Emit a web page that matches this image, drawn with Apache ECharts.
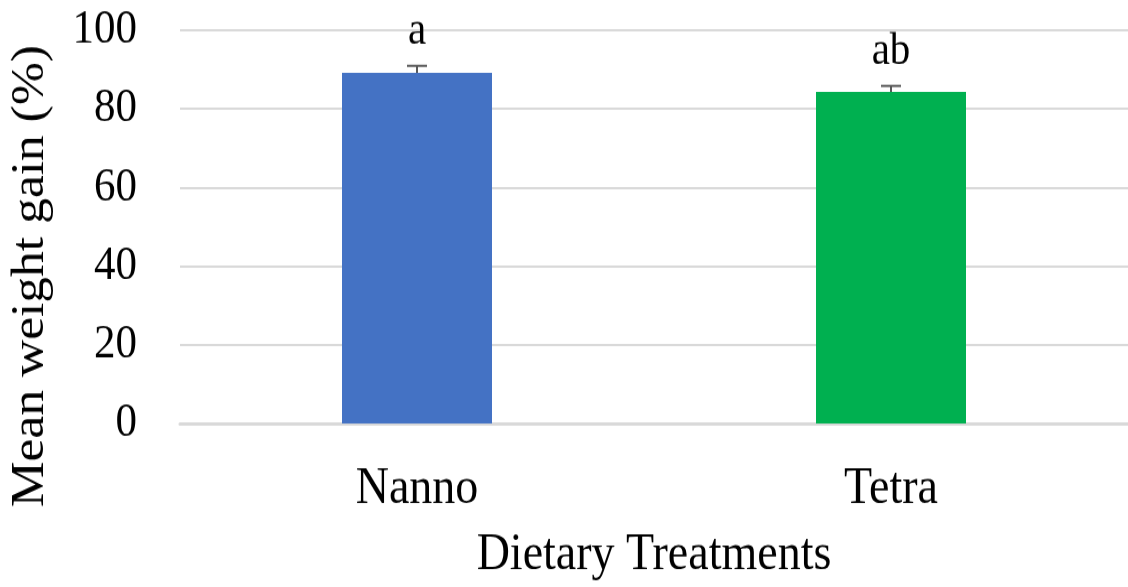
<!DOCTYPE html>
<html>
<head>
<meta charset="utf-8">
<script src="https://cdn.jsdelivr.net/npm/echarts@6/dist/echarts.min.js"></script>
<style>
  html, body { margin: 0; padding: 0; background: #fff; overflow: hidden; }
  body { width: 1128px; height: 587px; }
  /* the figure is drawn at 524px tall and stretched to 587px, giving its tall serif lettering */
  #chart { width: 1128px; height: 524px; transform: scaleY(1.1202); transform-origin: 0 0; }
</style>
</head>
<body>
<div id="chart"></div>
<script>
// Mean weight gain per dietary treatment
const categories = ['Nanno', 'Tetra'];
const meanGain = [89.1, 84.3];
const stdError = [1.8, 1.5];
const groupLetters = ['a', 'ab'];
const barColors = ['#4472C4', '#00B050'];
const yTicks = [0, 20, 40, 60, 80, 100];

const FONT = '"Liberation Serif", "Times New Roman", serif';
const chart = echarts.init(document.getElementById('chart'));

chart.setOption({
  animation: false,
  grid: { left: 180, right: 0, top: 26.8, bottom: 144.6 },
  xAxis: {
    type: 'category',
    data: categories,
    axisTick: { show: false },
    axisLine: { lineStyle: { color: '#d9d9d9', width: 3 } },
    axisLabel: { color: '#000', fontFamily: FONT, fontSize: 46, margin: 36 },
    name: 'Dietary Treatments',
    nameLocation: 'middle',
    nameGap: 95,
    nameTextStyle: { color: '#000', fontFamily: FONT, fontSize: 46 }
  },
  yAxis: {
    type: 'value',
    min: yTicks[0],
    max: yTicks[yTicks.length - 1],
    interval: yTicks[1] - yTicks[0],
    axisLine: { show: false },
    axisTick: { show: false },
    splitLine: { lineStyle: { color: '#d9d9d9', width: 2 } },
    axisLabel: { color: '#000', fontFamily: FONT, fontSize: 43, margin: 43 }
  },
  graphic: [{
    type: 'text',
    x: 31,
    y: 246.5,
    rotation: Math.PI / 2,
    style: {
      text: 'Mean weight gain (%)',
      fill: '#000',
      font: '46px ' + FONT,
      textAlign: 'center',
      textVerticalAlign: 'middle'
    }
  }],
  series: [
    {
      type: 'bar',
      barWidth: 150,
      data: meanGain.map((v, i) => ({ value: v, itemStyle: { color: barColors[i] } })),
      z: 2
    },
    {
      type: 'custom',
      z: 3,
      data: meanGain.map((v, i) => [i, v, stdError[i]]),
      renderItem: function (params, api) {
        const x = api.coord([api.value(0), 0])[0];
        const yMean = api.coord([api.value(0), api.value(1)])[1];
        const yTop = api.coord([api.value(0), api.value(1) + api.value(2)])[1];
        const cap = 10;
        const stroke = { stroke: '#595959', lineWidth: 2 };
        return {
          type: 'group',
          children: [
            { type: 'line', shape: { x1: x, y1: yMean, x2: x, y2: yTop }, style: stroke },
            { type: 'line', shape: { x1: x - cap, y1: yTop, x2: x + cap, y2: yTop }, style: stroke },
            {
              type: 'text',
              x: x,
              y: yTop - 10,
              style: {
                text: groupLetters[params.dataIndex],
                fill: '#000',
                font: '41px ' + FONT,
                textAlign: 'center',
                textVerticalAlign: 'bottom'
              }
            }
          ]
        };
      }
    }
  ]
});
</script>
</body>
</html>
